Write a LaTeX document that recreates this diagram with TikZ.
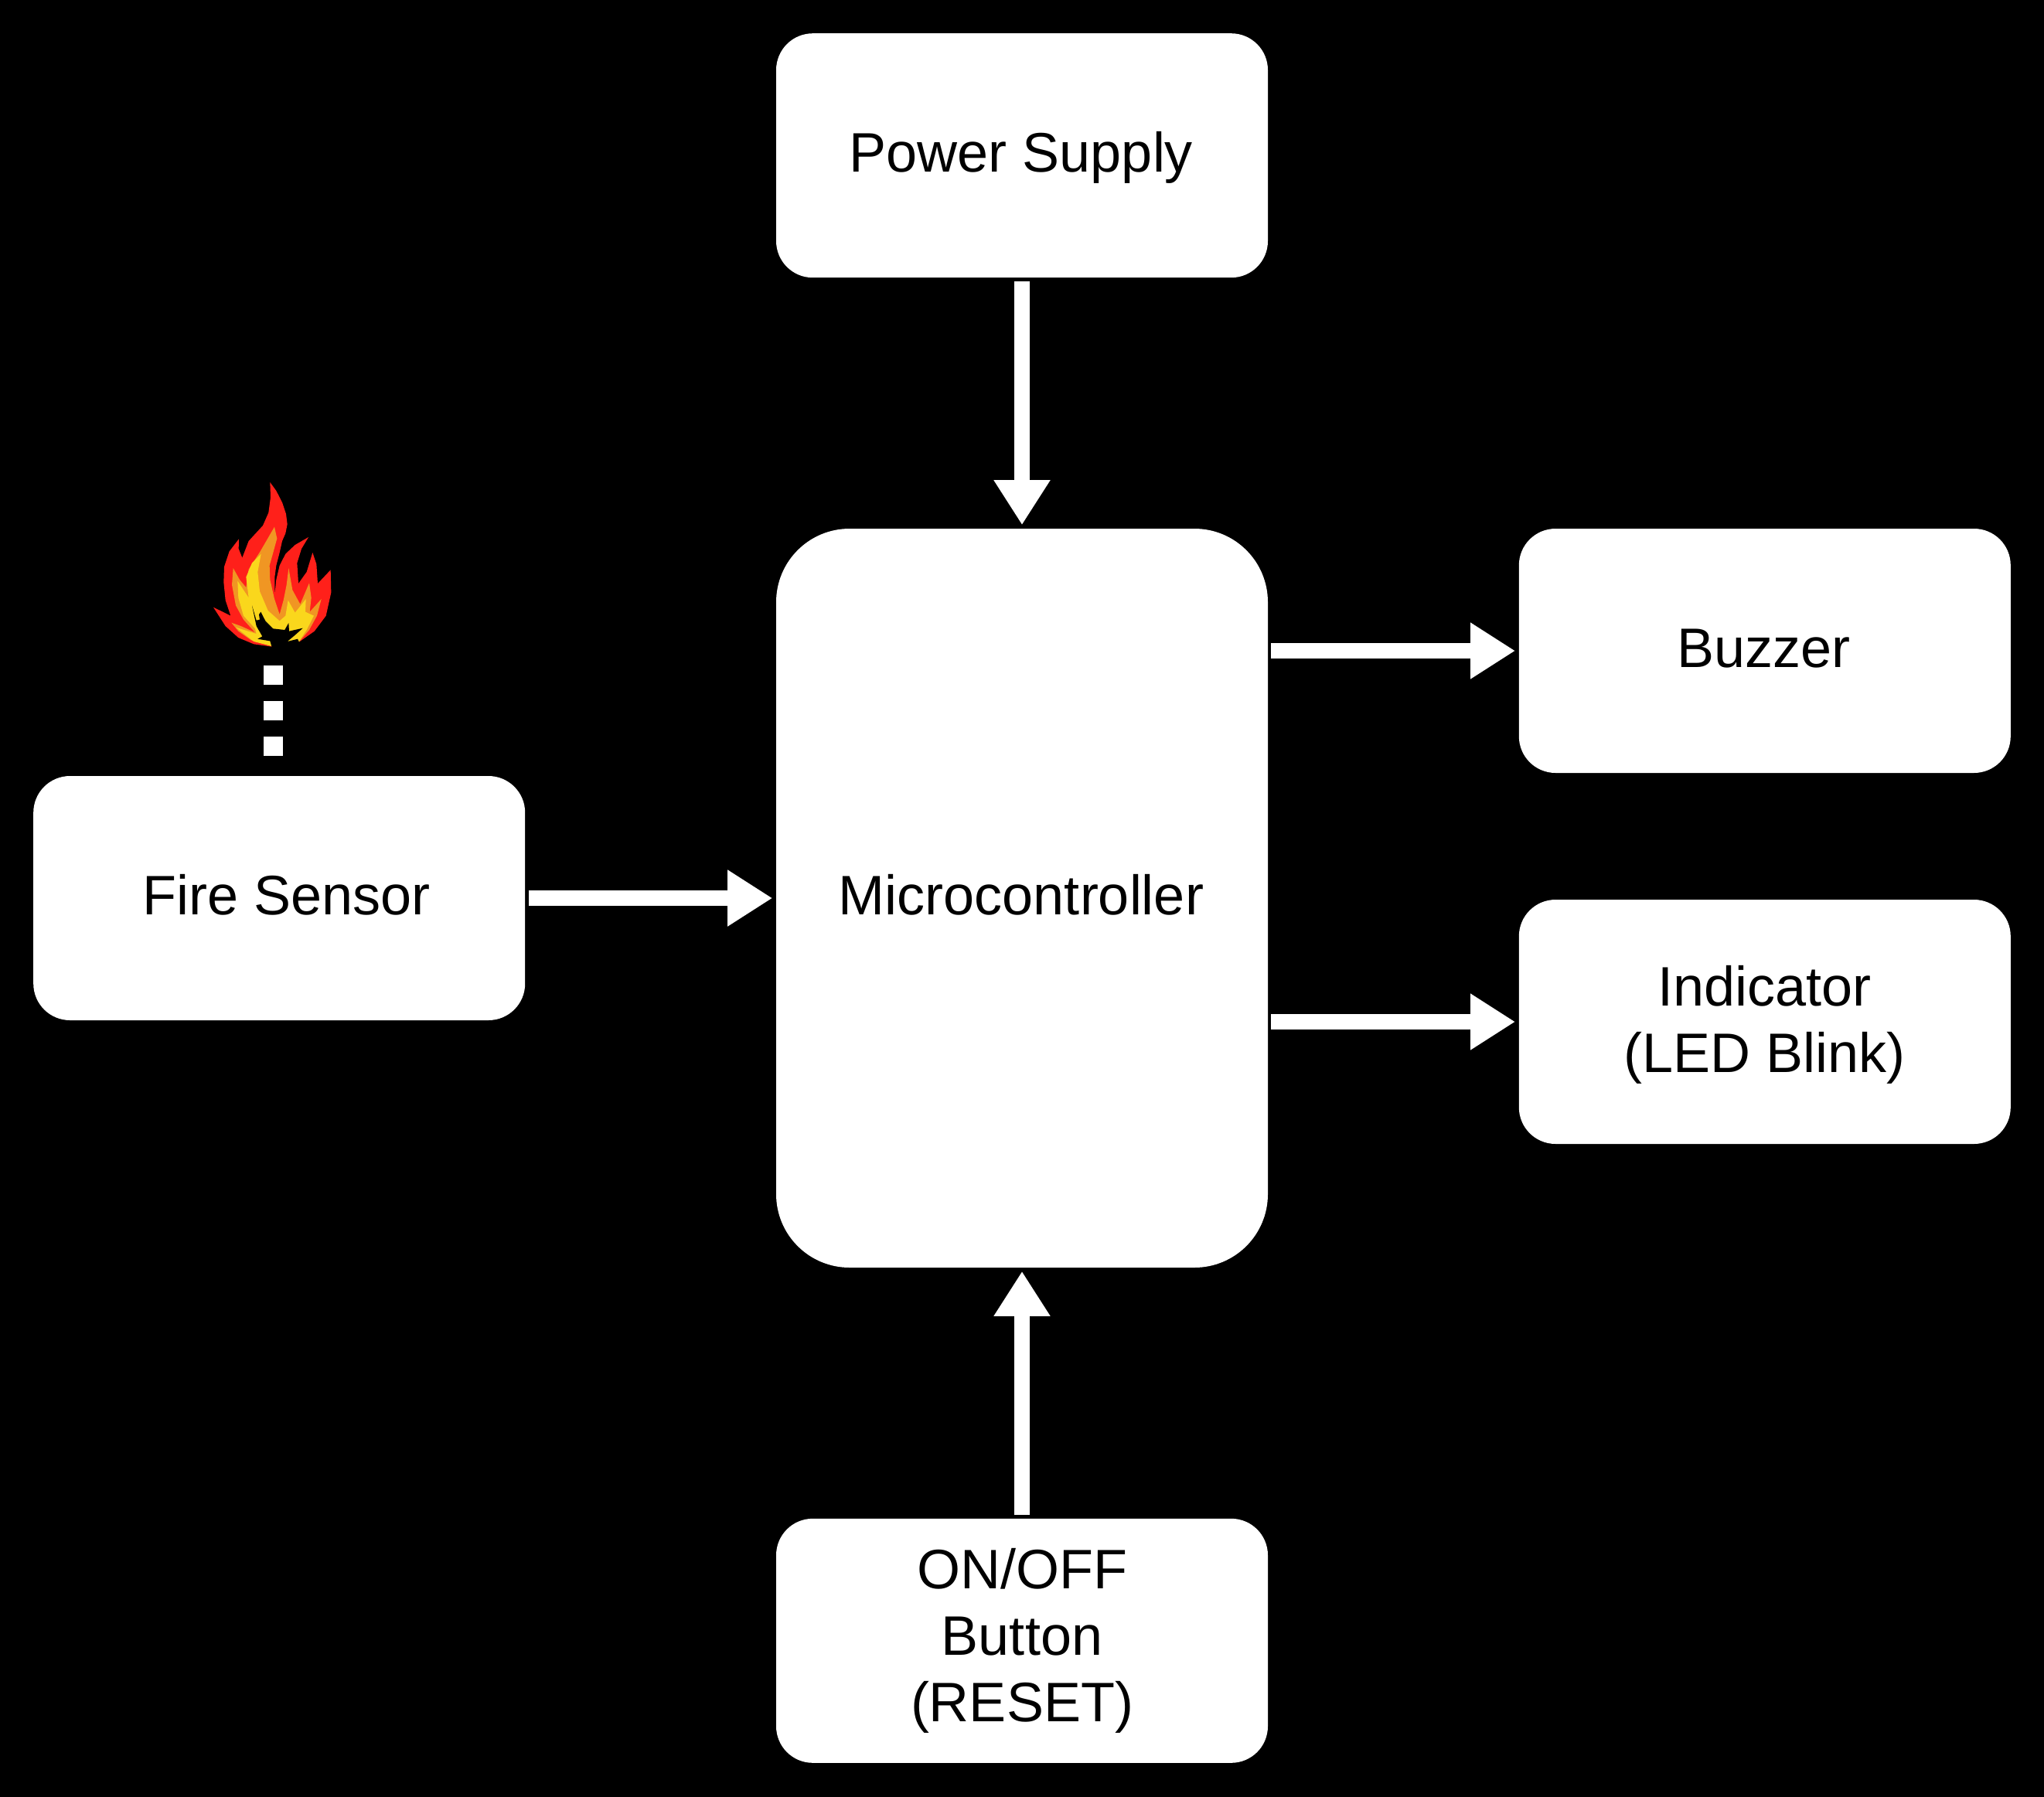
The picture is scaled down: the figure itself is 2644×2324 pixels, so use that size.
\documentclass[tikz,border=0pt]{standalone}
\usepackage{fontspec}
\setmainfont{Liberation Sans}
\usetikzlibrary{positioning, arrows.meta}
\definecolor{flamered}{RGB}{255,32,26}
\definecolor{flameorange}{RGB}{240,150,35}
\definecolor{flameyellow}{RGB}{250,215,28}

\tikzset{
  blockbox/.style={fill=white,text=black,inner sep=0pt,align=center,minimum width=318pt,minimum height=158pt,rounded corners=23.7pt,font=\fontsize{36pt}{43pt}\selectfont},
  oneline/.style={text height=25.8pt,text depth=4.5pt},
  mcubox/.style={blockbox,minimum height=478pt,rounded corners=47.5pt},
  flowline/.style={draw=white,line width=10pt,shorten <=2pt,shorten >=2.2pt,-{Triangle[length=29pt,width=34.5pt]}},
  firelink/.style={draw=white,line width=12.5pt,dash pattern=on 12.5pt off 10.5pt,shorten >=13pt}
}

\begin{document}
\begin{tikzpicture}[x=.5pt,y=-.5pt,node distance=162pt]
\useasboundingbox (0,0) rectangle (2644,2324);
\fill [black] (-6,-6) rectangle (2650,2330);
\node [mcubox,oneline] (MCU) at (1322,1162) {Microcontroller\hspace*{1pt}};
\node [blockbox,oneline] [above=of MCU] (Power) {Power Supply\hspace*{1pt}};
\node [blockbox] [below=of MCU] (Button) {ON/OFF\\Button\\(RESET)};
\node [blockbox,oneline] [left=of MCU] (Sensor) {\hspace*{9pt}Fire Sensor};
\node [blockbox,oneline] [right=of MCU,yshift=160pt] (Buzzer) {Buzzer\hspace*{1pt}};
\node [blockbox] [right=of MCU,yshift=-80pt] (Indicator) {\rule{0pt}{30.2pt}Indicator\\(LED Blink)};
\coordinate (Flame) at (353.5,861);
\draw [flowline] (Power) -- (MCU);
\draw [flowline] (Button) -- (MCU);
\draw [flowline] (Sensor) -- (MCU);
\draw [flowline] (MCU.east |- Buzzer) -- (Buzzer);
\draw [flowline] (MCU.east |- Indicator) -- (Indicator);
\draw [firelink] (Flame) -- (Flame |- Sensor.north);
% flame, traced
\begin{scope}[shift={(250,600)},x=.16667pt,y=-.16667pt]
\fill [flamered] (298,72) -- (322,105) -- (345,150) -- (360,195) -- (365,235) -- (358,270) -- (345,300) -- (335,345) -- (322,395) -- (316,440) -- (316,510) -- (322,450) -- (335,395) -- (358,350) -- (395,315) -- (447,285) -- (420,330) -- (403,385) -- (408,465) -- (440,420) -- (463,345) -- (478,390) -- (483,465) -- (533,412) -- (535,500) -- (515,590) -- (470,650) -- (410,692) -- (305,710) -- (235,700) -- (175,675) -- (125,630) -- (78,557) -- (145,590) -- (125,530) -- (118,460) -- (120,400) -- (140,340) -- (177,292) -- (176,330) -- (190,365) -- (215,300) -- (270,240) -- (292,190) -- (300,130) -- cycle;
\fill [flameorange] (315,245) -- (325,290) -- (310,345) -- (296,395) -- (298,450) -- (315,525) -- (335,585) -- (350,530) -- (362,470) -- (370,405) -- (385,490) -- (415,545) -- (450,463) -- (458,520) -- (452,575) -- (497,525) -- (480,590) -- (450,645) -- (410,692) -- (305,708) -- (225,685) -- (175,650) -- (148,617) -- (185,630) -- (240,655) -- (195,605) -- (165,550) -- (150,470) -- (155,405) -- (180,450) -- (205,480) -- (215,410) -- (260,340) -- cycle;
\fill [flameyellow] (263,350) -- (250,420) -- (258,495) -- (290,570) -- (335,610) -- (358,590) -- (368,530) -- (395,578) -- (437,525) -- (435,575) -- (468,590) -- (440,645) -- (410,690) -- (305,708) -- (235,690) -- (165,635) -- (245,660) -- (240,640) -- (195,590) -- (175,520) -- (172,455) -- (215,520) -- (205,440) -- (228,385) -- cycle;
\fill [black] (228,550) -- (245,608) -- (258,605) -- (255,585) -- (262,575) -- (280,610) -- (310,640) -- (355,645) -- (370,618) -- (372,650) -- (425,638) -- (395,665) -- (365,690) -- (405,680) -- (412,695) -- (305,712) -- (298,688) -- (250,680) -- (268,670) -- (245,630) -- cycle;
\end{scope}
\end{tikzpicture}
\end{document}
